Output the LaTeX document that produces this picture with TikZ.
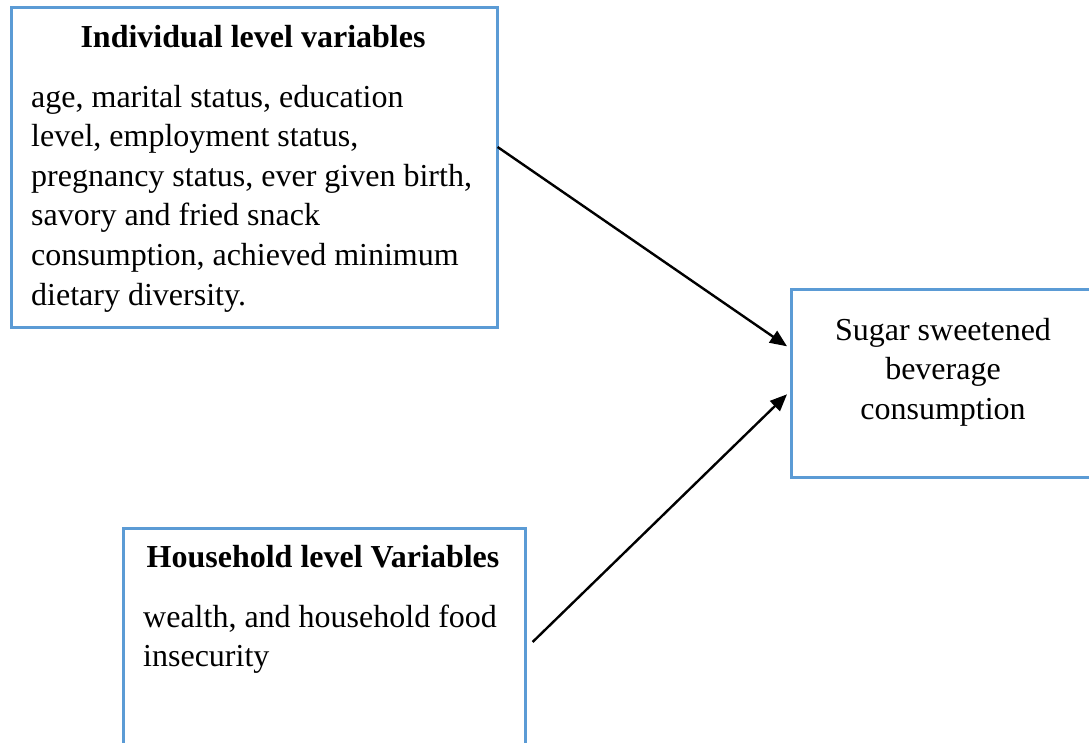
\documentclass[tikz,border=0pt]{standalone}
\usepackage{fontspec}
\setmainfont{Liberation Serif}
\usetikzlibrary{arrows.meta,calc}
\definecolor{boxblue}{HTML}{5B9BD5}
\tikzset{
  boxframe/.style={draw=boxblue, line width=2.6pt, anchor=north west, inner sep=0pt, fill=white},
  txt/.style={inner sep=0pt, font=\fontsize{32}{39.6}\selectfont,
    execute at begin node={\spaceskip=0.25em\relax\xspaceskip=0.25em\relax}},
  arr/.style={line width=2.4pt, -{Triangle[length=17pt,width=14pt]}}
}
\begin{document}
\begin{tikzpicture}[x=1pt,y=-1pt]
\useasboundingbox (0,0) rectangle (1089,742);
\clip (0,0) rectangle (1089,742);
% boxes
\node[boxframe, minimum width=486pt, minimum height=320pt] (ind) at (10,6) {};
\node[boxframe, minimum width=310pt, minimum height=188pt] (ssb) at (790,288) {};
\node[boxframe, minimum width=402pt, minimum height=240pt] (hh) at (122,527) {};
% texts
\node[txt, anchor=base, font=\fontsize{32}{39.6}\selectfont\bfseries] (indh) at (253,47) {Individual level variables};
\node[txt, anchor=base west, text width=460pt, align=left] (indb) at (31,107)
  {age, marital status, education\\ level, employment status,\\ pregnancy status, ever given birth,\\ savory and fried snack\\ consumption, achieved minimum\\ dietary diversity.};
\node[txt, anchor=base, text width=300pt, align=center] (ssbt) at (943,340)
  {Sugar sweetened\\ beverage\\ consumption};
\node[txt, anchor=base, font=\fontsize{32}{39.6}\selectfont\bfseries] (hhh) at (323,567) {Household level Variables};
\node[txt, anchor=base west, text width=380pt, align=left] (hhb) at (143,627)
  {wealth, and household food\\ insecurity};
% connectors
\coordinate (a1s) at ($(ind.north east)+(-1,141)$);
\coordinate (a1e) at ($(ssb.west)+(-3,-37)$);
\coordinate (a2s) at ($(hh.north east)+(6,115)$);
\coordinate (a2e) at ($(ssb.west)+(-3,11)$);
\draw[arr] (a1s) -- (a1e);
\draw[arr] (a2s) -- (a2e);
\end{tikzpicture}
\end{document}
